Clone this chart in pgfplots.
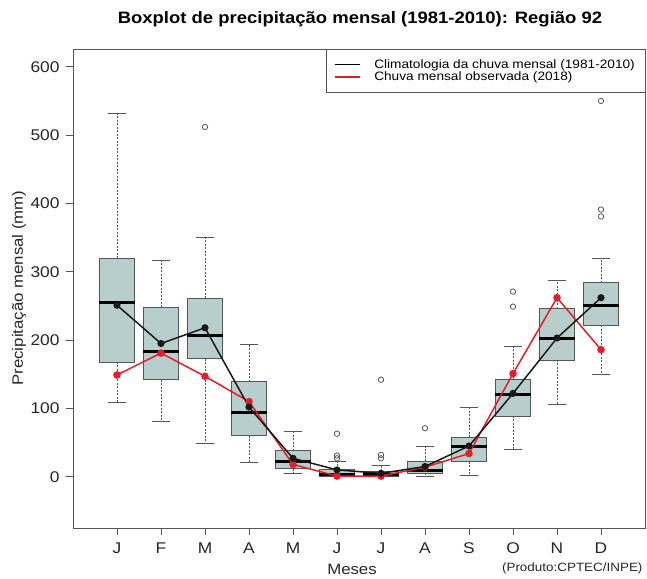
\documentclass[border=0pt]{standalone}
\usepackage{fontspec}
\setmainfont{Liberation Sans}[FakeStretch=1.12]
\usepackage{pgfplots}
\pgfplotsset{compat=1.18}
\usepgfplotslibrary{statistics}

\definecolor{boxfill}{RGB}{184,206,205}
\definecolor{obsred}{RGB}{226,30,42}
\definecolor{axisgray}{RGB}{85,85,85}

\pgfplotsset{
  rbox/.style={
    forget plot,
    boxplot/draw direction=y,
    boxplot/box extend=0.8,
    boxplot/whisker extend=0.41,
    boxplot/every box/.style={draw=axisgray, fill=boxfill, line width=0.8pt},
    boxplot/every median/.style={black, line width=3pt},
    boxplot/draw/lower whisker/.code={
      \draw[axisgray, line width=0.8pt, dash pattern=on 2pt off 1.5pt]
        (boxplot whisker cs:\pgfplotsboxplotvalue{lower quartile},0.5) --
        (boxplot whisker cs:\pgfplotsboxplotvalue{lower whisker},0.5);
      \draw[axisgray, line width=0.8pt]
        (boxplot whisker cs:\pgfplotsboxplotvalue{lower whisker},0) --
        (boxplot whisker cs:\pgfplotsboxplotvalue{lower whisker},1);
    },
    boxplot/draw/upper whisker/.code={
      \draw[axisgray, line width=0.8pt, dash pattern=on 2pt off 1.5pt]
        (boxplot whisker cs:\pgfplotsboxplotvalue{upper quartile},0.5) --
        (boxplot whisker cs:\pgfplotsboxplotvalue{upper whisker},0.5);
      \draw[axisgray, line width=0.8pt]
        (boxplot whisker cs:\pgfplotsboxplotvalue{upper whisker},0) --
        (boxplot whisker cs:\pgfplotsboxplotvalue{upper whisker},1);
    },
  },
}

\begin{document}
\begin{tikzpicture}
\useasboundingbox (-73pt,-50pt) rectangle (574pt,528pt);
\begin{axis}[
  at={(0pt,0pt)}, anchor=south west,
  scale only axis, width=572pt, height=479pt,
  xmin=0, xmax=13, ymin=-75, ymax=626,
  xtick={1,...,12},
  xticklabels={J,F,M,A,M,J,J,A,S,O,N,D},
  ytick={0,100,...,600},
  tick pos=left,
  tick align=outside, major tick length=7pt,
  tick style={axisgray, line width=0.8pt},
  axis line style={axisgray, line width=0.8pt},
  ticklabel style={font=\fontsize{15.5}{15.5}\selectfont, text=black!85},
  xticklabel style={yshift=-4pt},
  yticklabel style={xshift=-3pt},
  /pgf/number format/assume math mode=true,
  legend style={at={(rel axis cs:1,1)}, anchor=north east, draw=axisgray,
    font=\fontsize{12.2}{12.2}\selectfont,
    inner xsep=8pt, inner ysep=9pt, row sep=0pt,
    nodes={inner ysep=1pt},
    /tikz/every odd column/.append style={column sep=11pt}},
  legend cell align=left,
  legend image code/.code={\draw[#1] (0pt,0pt) -- (25pt,0pt);},
]
\addlegendimage{draw=black, line width=1.6pt}
\addlegendentry{Climatologia da chuva mensal (1981-2010)}
\addlegendimage{draw=obsred, line width=1.6pt}
\addlegendentry{Chuva mensal observada (2018)}

% boxplots (1981-2010)
\addplot[rbox, boxplot prepared={draw position=1, lower whisker=109, lower quartile=168, median=255, upper quartile=320, upper whisker=532}] coordinates {};
\addplot[rbox, boxplot prepared={draw position=2, lower whisker=81, lower quartile=142, median=184, upper quartile=248, upper whisker=316}] coordinates {};
\addplot[rbox, boxplot prepared={draw position=3, lower whisker=49, lower quartile=173, median=206, upper quartile=261, upper whisker=351}] coordinates {};
\addplot[rbox, boxplot prepared={draw position=4, lower whisker=21, lower quartile=60, median=94, upper quartile=139, upper whisker=194}] coordinates {};
\addplot[rbox, boxplot prepared={draw position=5, lower whisker=5, lower quartile=12, median=22, upper quartile=38, upper whisker=66}] coordinates {};
\addplot[rbox, boxplot prepared={draw position=6, lower whisker=0, lower quartile=1, median=4, upper quartile=11, upper whisker=22}] coordinates {};
\addplot[rbox, boxplot prepared={draw position=7, lower whisker=0, lower quartile=1, median=4, upper quartile=8, upper whisker=16}] coordinates {};
\addplot[rbox, boxplot prepared={draw position=8, lower whisker=0, lower quartile=5, median=9, upper quartile=23, upper whisker=44}] coordinates {};
\addplot[rbox, boxplot prepared={draw position=9, lower whisker=2, lower quartile=22, median=44, upper quartile=58, upper whisker=102}] coordinates {};
\addplot[rbox, boxplot prepared={draw position=10, lower whisker=40, lower quartile=89, median=121, upper quartile=143, upper whisker=191}] coordinates {};
\addplot[rbox, boxplot prepared={draw position=11, lower whisker=106, lower quartile=171, median=203, upper quartile=246, upper whisker=288}] coordinates {};
\addplot[rbox, boxplot prepared={draw position=12, lower whisker=150, lower quartile=222, median=250, upper quartile=284, upper whisker=320}] coordinates {};

% outliers
\addplot[forget plot, only marks, mark=o, mark size=2.7pt,
  mark options={axisgray, line width=0.8pt}] coordinates {
  (3,512) (6,63) (6,31) (6,27) (7,142) (7,32) (7,27) (8,71)
  (10,271) (10,249) (12,550) (12,391) (12,381)};

% observed 2018
\addplot[forget plot, obsred, line width=1.5pt, mark=*, mark size=3pt] coordinates {
  (1,149) (2,181) (3,147) (4,110) (5,18) (6,1) (7,1) (8,14) (9,34) (10,151) (11,262) (12,186)};
% climatology mean
\addplot[forget plot, black!90, line width=1.5pt, mark=*, mark size=2.8pt] coordinates {
  (1,251) (2,195) (3,218) (4,102) (5,27) (6,10) (7,5) (8,15) (9,45) (10,122) (11,203) (12,262)};
\end{axis}
\node[font=\bfseries\fontsize{16.5}{16.5}\selectfont] at (287pt,509pt)
  {Boxplot de precipitação mensal (1981-2010): Região 92};
\node[rotate=90, font=\fontsize{15}{15}\selectfont, text=black!85] at (-54pt,240pt)
  {Precipitação mensal (mm)};
\node[font=\fontsize{15}{15}\selectfont, text=black!85] at (279pt,-41pt) {Meses};
\node[anchor=east, font=\fontsize{12}{12}\selectfont, text=black!85] at (573pt,-40pt)
  {(Produto:CPTEC/INPE)};
\end{tikzpicture}
\end{document}
